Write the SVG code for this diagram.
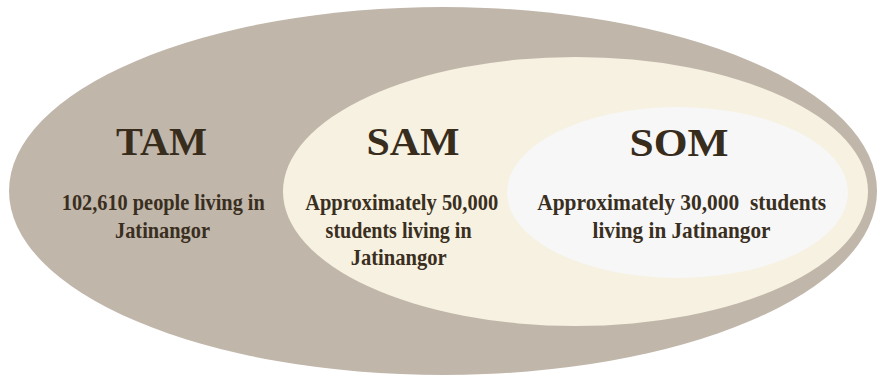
<svg xmlns="http://www.w3.org/2000/svg" width="877" height="376" viewBox="0 0 877 376">
  <style>
    .title { font-family: "Liberation Serif", "Times New Roman", serif; font-weight: bold; font-size: 41px; fill: #382d1d; text-anchor: middle; }
    .body { font-family: "Liberation Serif", "Times New Roman", serif; font-weight: bold; font-size: 23px; fill: #3a2f1f; text-anchor: middle; }
    .tam { fill: #c0b6aa; }
    .sam { fill: #f7f1e1; }
    .som { fill: #f7f7f7; }
  </style>
  <rect width="877" height="376" fill="#ffffff"/>

  <!-- Total addressable market -->
  <g id="tam">
    <ellipse class="tam" cx="443" cy="191" rx="434" ry="184"/>
    <text class="title" x="161.5" y="155" textLength="91" lengthAdjust="spacingAndGlyphs">TAM</text>
    <text class="body" x="163.3" y="210" textLength="203" lengthAdjust="spacingAndGlyphs">102,610 people living in</text>
    <text class="body" x="162.5" y="237.5" textLength="95" lengthAdjust="spacingAndGlyphs">Jatinangor</text>
  </g>

  <!-- Serviceable available market -->
  <g id="sam">
    <ellipse class="sam" cx="575.5" cy="191.5" rx="292.5" ry="134.5"/>
    <text class="title" x="413" y="155" textLength="93" lengthAdjust="spacingAndGlyphs">SAM</text>
    <text class="body" x="401.7" y="210" textLength="193" lengthAdjust="spacingAndGlyphs">Approximately 50,000</text>
    <text class="body" x="398.6" y="237.5" textLength="146" lengthAdjust="spacingAndGlyphs">students living in</text>
    <text class="body" x="398.7" y="265" textLength="96" lengthAdjust="spacingAndGlyphs">Jatinangor</text>
  </g>

  <!-- Serviceable obtainable market -->
  <g id="som">
    <ellipse class="som" cx="677.5" cy="192.5" rx="170.5" ry="85.5"/>
    <text class="title" x="679" y="156" textLength="99" lengthAdjust="spacingAndGlyphs">SOM</text>
    <text class="body" x="681.7" y="209.5" textLength="289" lengthAdjust="spacingAndGlyphs" xml:space="preserve">Approximately 30,000  students</text>
    <text class="body" x="681.5" y="237.5" textLength="178" lengthAdjust="spacingAndGlyphs">living in Jatinangor</text>
  </g>
</svg>
